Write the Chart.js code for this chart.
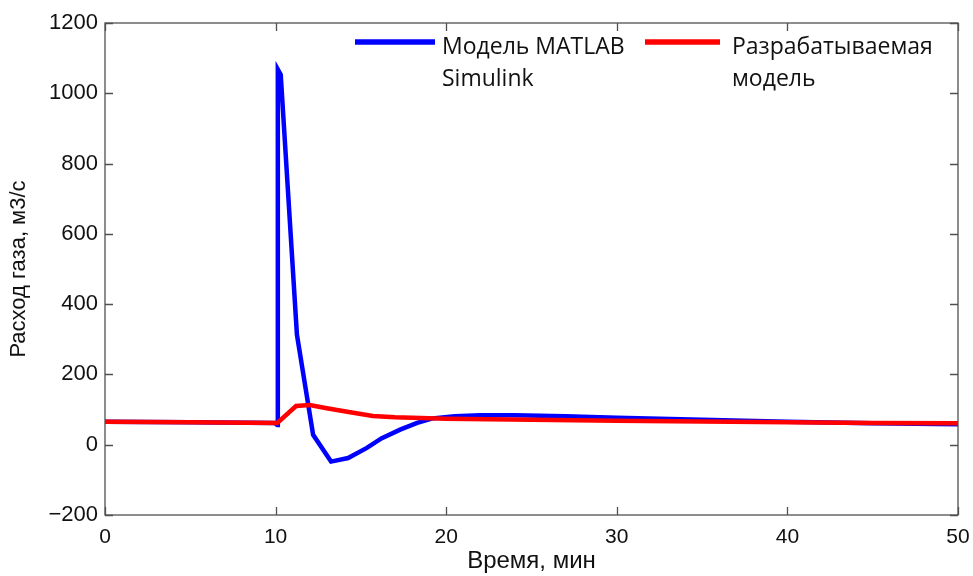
<!DOCTYPE html>
<html>
<head>
<meta charset="utf-8">
<script src="https://cdn.jsdelivr.net/npm/chart.js@4.4.0/dist/chart.umd.min.js"></script>
<style>
  html, body { margin: 0; padding: 0; background: #fff; }
  #wrap { width: 973px; height: 576px; }
</style>
</head>
<body>
<div id="wrap"><canvas id="chart" width="973" height="576"></canvas></div>
<script>
// Series (time in minutes, flow in m3/s)
const blueTime = [0, 5, 9.95, 10.1, 10.13, 10.3, 11.25, 12.2, 13.25, 14.25, 15.35, 16.2, 17.3, 18.3, 19.2, 20.5, 22, 24, 27, 30, 35, 40, 45, 50];
const blueFlow = [65, 64, 62, 56, 1068, 1053, 313, 28, -48, -38, -9, 18, 43, 62, 75, 81, 84, 84, 81, 77, 71, 65, 61, 58];

const redTime = [0, 5, 10.1, 11.2, 12.0, 13.0, 14.2, 15.7, 17, 18.5, 20, 25, 30, 35, 40, 45, 50];
const redFlow = [65, 64, 62, 110, 113, 104, 94, 82, 78, 76, 74, 71, 68, 66, 64, 62, 61];

const xTicks = [0, 10, 20, 30, 40, 50];
const yTicks = [-200, 0, 200, 400, 600, 800, 1000, 1200];

const seriesNames = [['Модель MATLAB', 'Simulink'], ['Разрабатываемая', 'модель']];
const xTitle = 'Время, мин';
const yTitle = 'Расход газа, м3/с';

function toPoints(xs, ys) {
  return xs.map((t, i) => ({ x: t, y: ys[i] }));
}

// Box, inward ticks and in-plot legend (MATLAB look)
const framePlugin = {
  id: 'frame',
  afterDatasetsDraw(chart) {
    const { ctx, chartArea: a, scales } = chart;
    const sx = scales.x, sy = scales.y;
    ctx.save();
    ctx.strokeStyle = '#505050';
    ctx.lineWidth = 1.3;
    ctx.strokeRect(a.left, a.top, a.right - a.left, a.bottom - a.top);
    ctx.beginPath();
    xTicks.forEach(v => {
      const px = Math.round(sx.getPixelForValue(v)) + 0.5;
      ctx.moveTo(px, a.bottom); ctx.lineTo(px, a.bottom - 8);
      ctx.moveTo(px, a.top); ctx.lineTo(px, a.top + 8);
    });
    yTicks.forEach(v => {
      const py = Math.round(sy.getPixelForValue(v)) + 0.5;
      ctx.moveTo(a.left, py); ctx.lineTo(a.left + 8, py);
      ctx.moveTo(a.right, py); ctx.lineTo(a.right - 8, py);
    });
    ctx.stroke();

    // legend
    const colors = ['#0000ff', '#ff0000'];
    const lineX = [[355, 435], [645, 720]];
    const textX = [442, 732];
    ctx.font = '23px "Open Sans", sans-serif';
    ctx.fillStyle = '#111';
    ctx.textBaseline = 'middle';
    ctx.textAlign = 'left';
    seriesNames.forEach((lines, i) => {
      ctx.strokeStyle = colors[i];
      ctx.lineWidth = 5.5;
      ctx.beginPath();
      ctx.moveTo(lineX[i][0], 42);
      ctx.lineTo(lineX[i][1], 42);
      ctx.stroke();
      lines.forEach((s, j) => ctx.fillText(s, textX[i], 47 + j * 32));
    });
    ctx.restore();
  }
};

new Chart(document.getElementById('chart').getContext('2d'), {
  type: 'scatter',
  data: {
    datasets: [
      {
        label: seriesNames[0].join(' '),
        data: toPoints(blueTime, blueFlow),
        showLine: true,
        borderColor: '#0000ff',
        borderWidth: 4.5,
        pointRadius: 0,
        tension: 0,
        order: 2
      },
      {
        label: seriesNames[1].join(' '),
        data: toPoints(redTime, redFlow),
        showLine: true,
        borderColor: '#ff0000',
        borderWidth: 4.5,
        pointRadius: 0,
        tension: 0,
        order: 1
      }
    ]
  },
  options: {
    responsive: false,
    animation: false,
    devicePixelRatio: 1,
    layout: { padding: { top: 23, right: 15, left: 0, bottom: 0 } },
    plugins: {
      legend: { display: false },
      tooltip: { enabled: false }
    },
    scales: {
      x: {
        type: 'linear',
        min: 0,
        max: 50,
        afterBuildTicks: s => { s.ticks = xTicks.map(v => ({ value: v })); },
        afterFit: s => { s.height = 61; s.paddingLeft = 0; s.paddingRight = 0; },
        grid: { display: false, drawTicks: false },
        border: { display: false },
        ticks: {
          color: '#111',
          padding: 10,
          maxRotation: 0,
          font: { family: '"Liberation Sans Narrow", "Liberation Sans", sans-serif', size: 21 }
        },
        title: {
          display: true,
          text: xTitle,
          color: '#111',
          padding: { top: 2, bottom: 0 },
          font: { family: '"Liberation Sans Narrow", "Liberation Sans", sans-serif', size: 24 }
        }
      },
      y: {
        type: 'linear',
        min: -200,
        max: 1200,
        afterBuildTicks: s => { s.ticks = yTicks.map(v => ({ value: v })); },
        afterFit: s => { s.width = 105; s.paddingTop = 0; s.paddingBottom = 0; },
        grid: { display: false, drawTicks: false },
        border: { display: false },
        ticks: {
          color: '#111',
          padding: 7,
          callback: v => (v < 0 ? '\u2212' + Math.abs(v) : String(v)),
          font: { family: '"Liberation Sans", Arial, sans-serif', size: 22 }
        },
        title: {
          display: true,
          text: yTitle,
          color: '#111',
          padding: { top: 6, bottom: 0 },
          font: { family: '"Liberation Sans", Arial, sans-serif', size: 22 }
        }
      }
    }
  },
  plugins: [framePlugin]
});
</script>
</body>
</html>
